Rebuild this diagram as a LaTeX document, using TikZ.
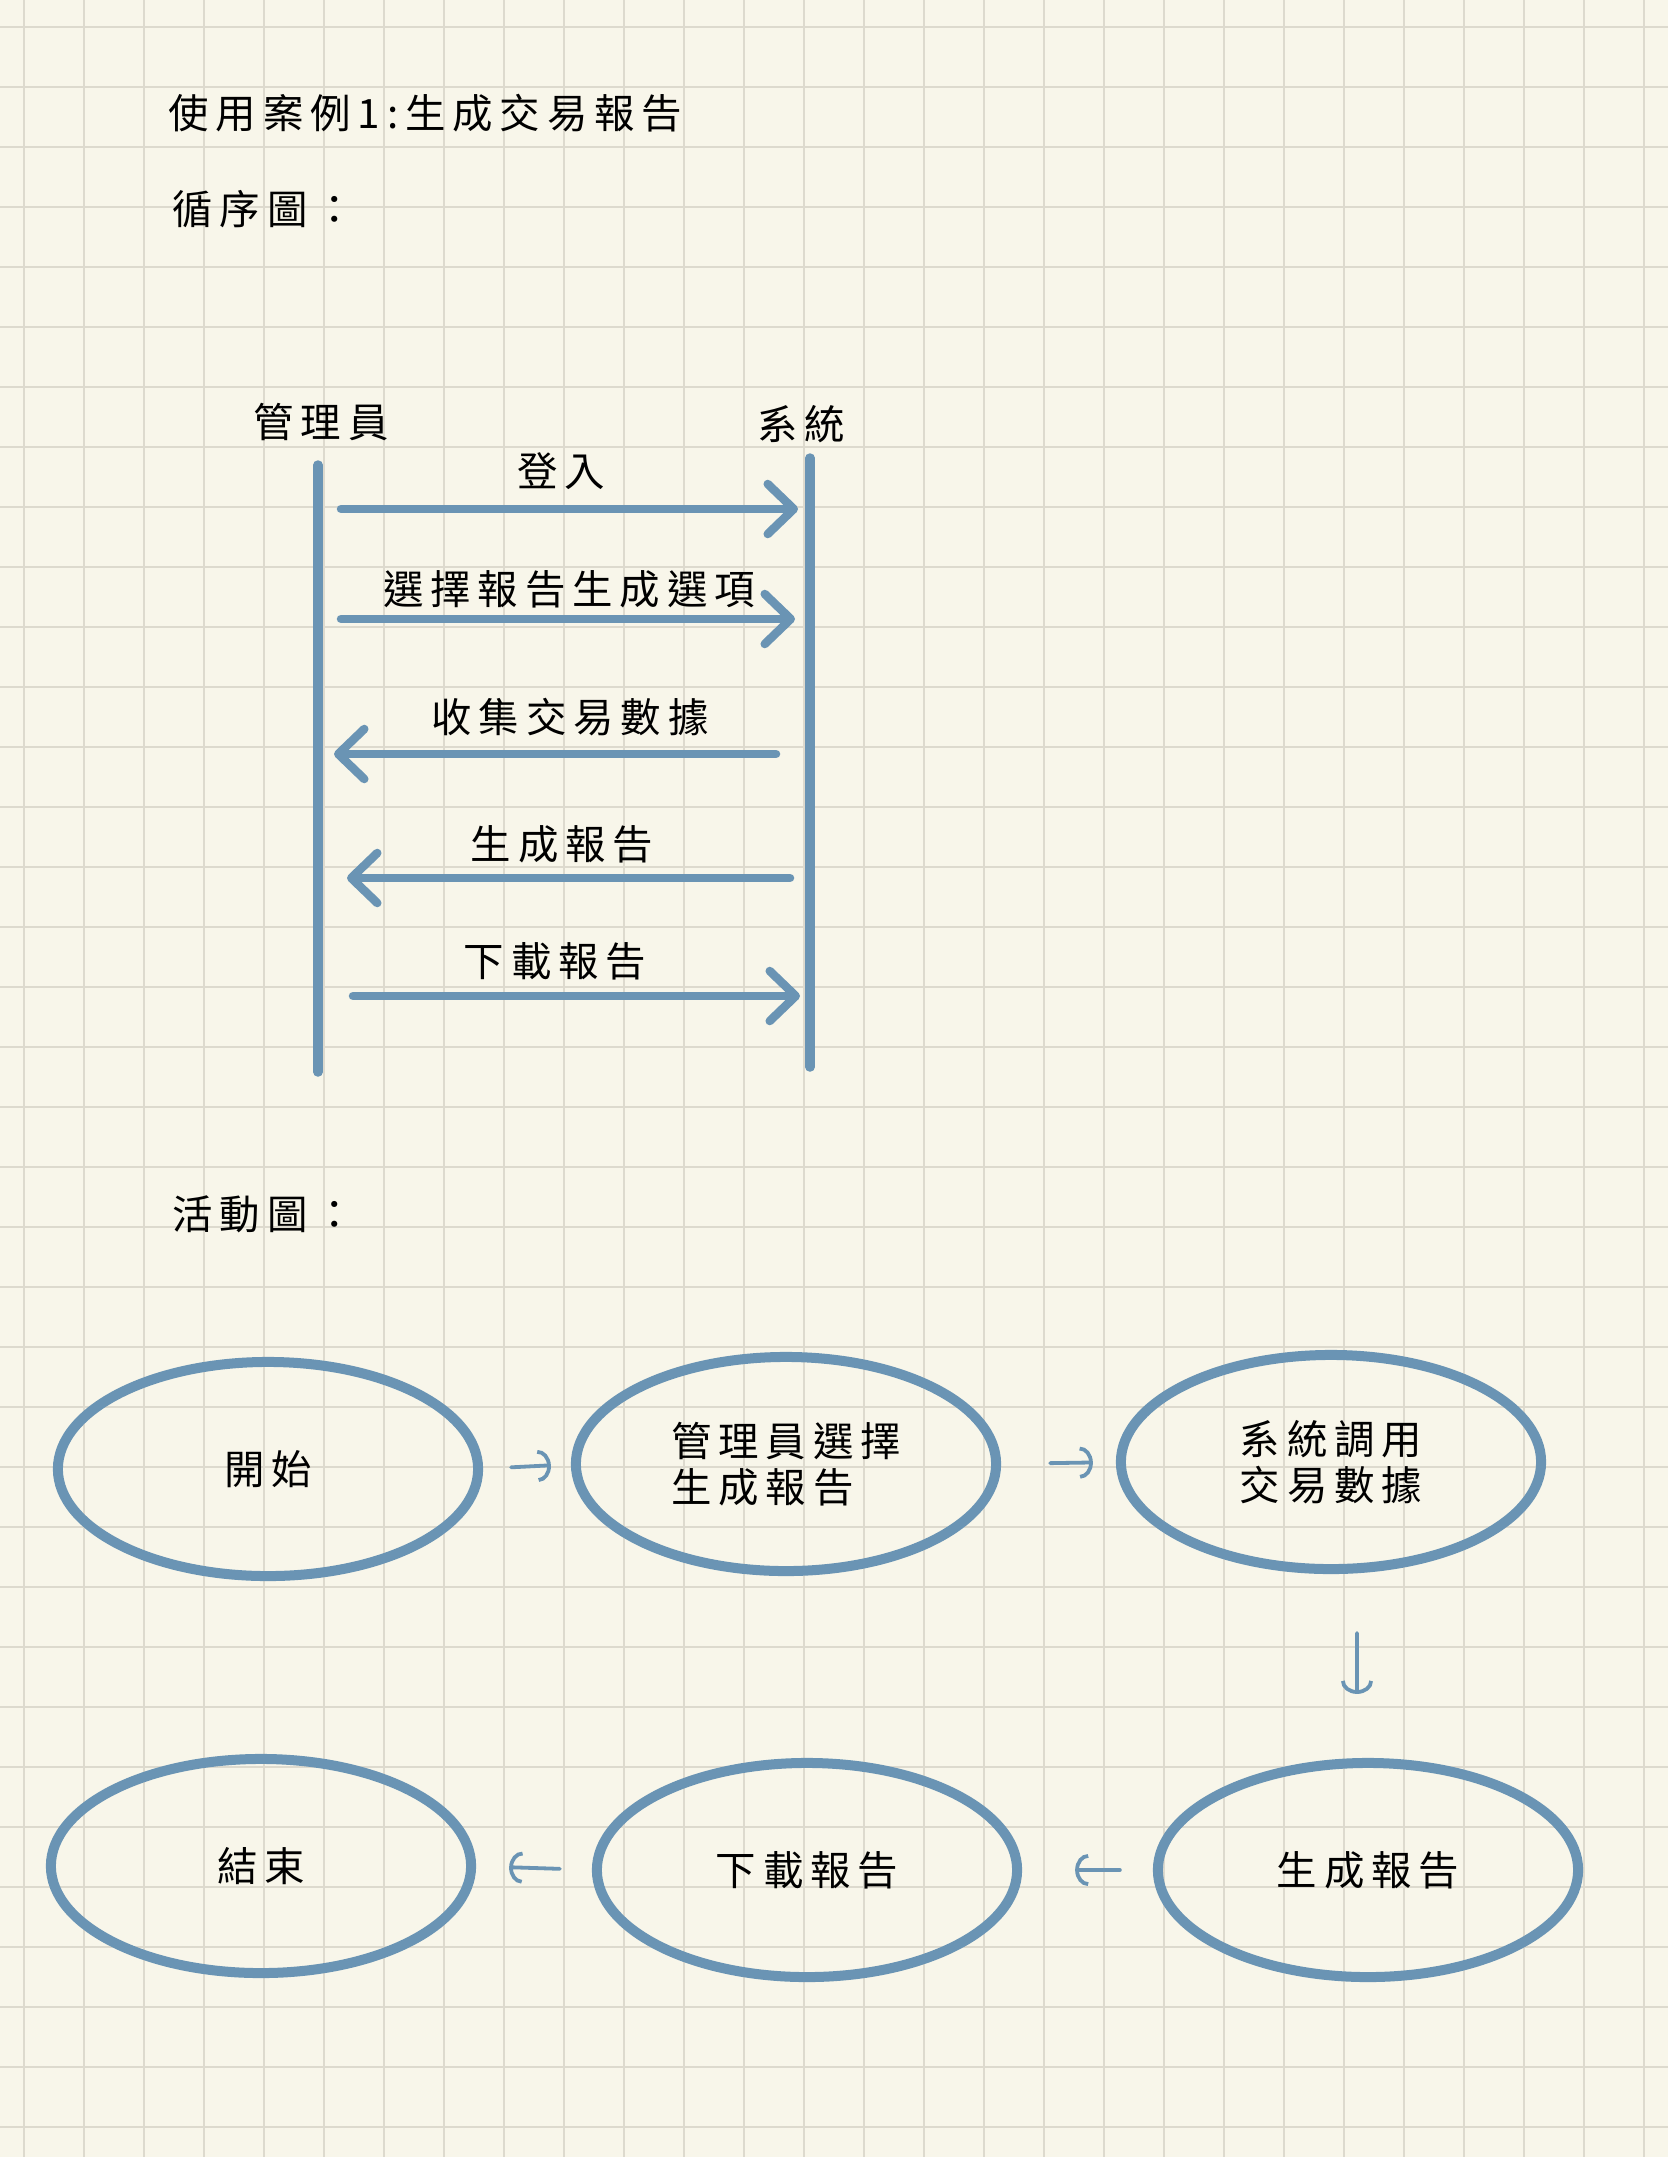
\documentclass[tikz,border=0pt]{standalone}
\usepackage{fontspec}
\usetikzlibrary{shapes.geometric,arrows.meta}
\newfontfamily\cjk[LetterSpace=17]{Noto Sans CJK TC}
\definecolor{paper}{HTML}{F8F6EA}
\definecolor{gridc}{HTML}{DDDACE}
\definecolor{ink}{HTML}{6A94B4}
\tikzset{
	hand/.style={font=\cjk\fontsize{11.5}{13}\selectfont,inner sep=0pt},
	oval/.style={ellipse,draw=ink,line width=0.1cm,minimum width=4.2cm,minimum height=2.14cm,inner sep=0pt,outer sep=0pt,align=left,font=\cjk\fontsize{11.5}{13}\selectfont},
	lifeline/.style={ink,line width=0.095cm,line cap=round},
	msg/.style={ink,line width=0.085cm,line cap=round,-{Straight Barb[round,length=0.26cm,width=0.5cm]}},
	flow/.style={ink,line width=0.038cm,line cap=round,-{Arc Barb[length=0.13cm,width=0.32cm]}},
	gridline/.style={gridc,line width=0.02cm}
}
\begin{document}
\begin{tikzpicture}[x=0.01cm,y=-0.01cm]
	
	\fill[paper] (0,0) rectangle (1668,2157);
	\useasboundingbox (0,0) rectangle (1668,2157);
	\foreach \gx in {24,84,...,1644} \draw[gridline] (\gx,0) -- (\gx,2157);
	\foreach \gy in {27,87,...,2127} \draw[gridline] (0,\gy) -- (1668,\gy);
	
	\node[hand,anchor=west] (title) at (168,113) {使用案例1:生成交易報告};
	\node[hand,anchor=west] (seqhead) at (172,209) {循序圖：};
	\node[hand,anchor=west] (acthead) at (172,1214) {活動圖：};
	
	\node[hand] (mgr) at (321,422) {管理員};
	\node[hand] (sys) at (801,424) {系統};
	\coordinate (mgrtop) at (318,465);
	\coordinate (mgrbot) at (318,1072);
	\coordinate (systop) at (810,458);
	\coordinate (sysbot) at (810,1067);
	\draw[lifeline] (mgrtop) -- (mgrbot);
	\draw[lifeline] (systop) -- (sysbot);
	
	\coordinate (loginA) at (341,509);
	\coordinate (loginB) at (798,509);
	\coordinate (chooseA) at (341,619);
	\coordinate (chooseB) at (795,619);
	\coordinate (collectA) at (776,754);
	\coordinate (collectB) at (334,754);
	\coordinate (makeA) at (790,878);
	\coordinate (makeB) at (347,878);
	\coordinate (fetchA) at (353,996);
	\coordinate (fetchB) at (800,996);
	\draw[msg] (loginA) -- (loginB);
	\draw[msg] (chooseA) -- (chooseB);
	\draw[msg] (collectA) -- (collectB);
	\draw[msg] (makeA) -- (makeB);
	\draw[msg] (fetchA) -- (fetchB);
	\node[hand] (login) at (561,471) {登入};
	\node[hand] (choose) at (569,589) {選擇報告生成選項};
	\node[hand] (collect) at (570,717) {收集交易數據};
	\node[hand] (make) at (562,844) {生成報告};
	\node[hand] (fetch) at (555,961) {下載報告};
	
	\node[oval] (start) at (268,1469) {開始};
	\node[oval] (pick) at (786,1464) {管理員選擇\\生成報告};
	\node[oval] (query) at (1331,1462) {系統調用\\交易數據};
	\node[oval] (gen) at (1368,1870) {生成報告};
	\node[oval] (dl) at (807,1870) {下載報告};
	\node[oval] (finish) at (261,1866) {結束};
	
	\draw[flow,shorten <=0.33cm,shorten >=0.25cm] (start.east) -- (pick.west);
	\draw[flow,shorten <=0.54cm,shorten >=0.28cm] (pick.east) -- (query.west);
	\draw[flow,shorten <=0.64cm,shorten >=0.69cm] ([xshift=0.26cm]query.south) -- ([xshift=-0.11cm]gen.north);
	\draw[flow,shorten <=0.38cm,shorten >=0.58cm] (gen.west) -- (dl.east);
	\draw[flow,shorten <=0.37cm,shorten >=0.38cm] (dl.west) -- (finish.east);
	
\end{tikzpicture}
\end{document}
